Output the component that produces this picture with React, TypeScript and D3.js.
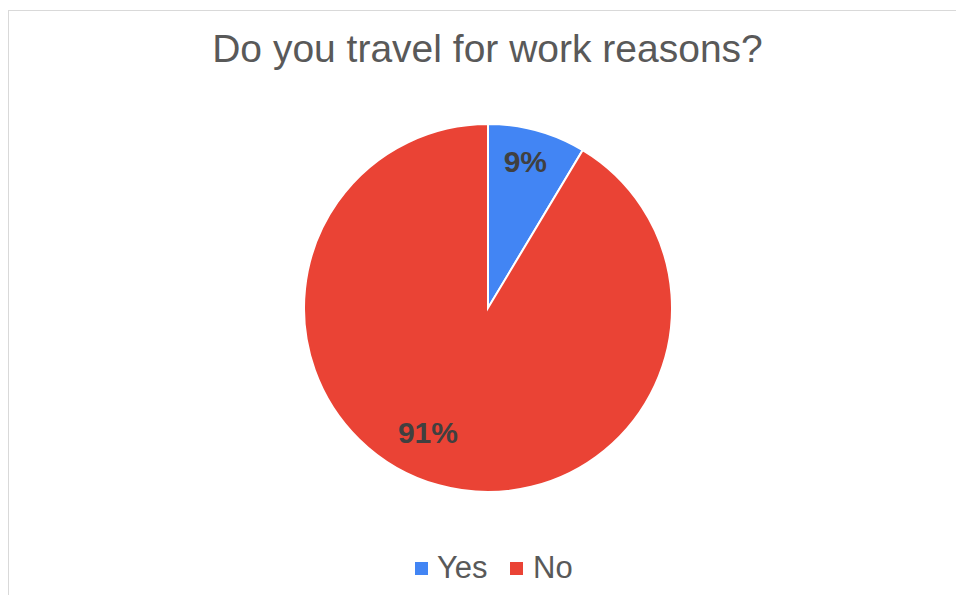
import React from "react";
import * as d3 from "d3";

const title = "Do you travel for work reasons?";
const categories = ["Yes", "No"];
const values = [8.6, 91.4];
const labels = ["9%", "91%"];
const colors = ["#4285F4", "#EA4335"];

export default function App() {
  const W = 956, H = 595;
  const cx = 488, cy = 308, R = 184;
  const pie = d3.pie<number>().sort(null).value((d) => d)(values);
  const arc = d3.arc<d3.PieArcDatum<number>>().innerRadius(0).outerRadius(R);
  const font = "'Liberation Sans', Arial, sans-serif";
  const labelPos = (d: d3.PieArcDatum<number>) => {
    const big = d.endAngle - d.startAngle > Math.PI;
    const a = (d.startAngle + d.endAngle) / 2 + (big ? 0.18 : -0.02);
    const r = big ? R * 0.75 : R * 0.82;
    return [r * Math.sin(a), -r * Math.cos(a)];
  };
  const legendItems = [
    { x: 415, tx: 437 },
    { x: 510, tx: 533 },
  ];
  return (
    <svg width={W} height={H} style={{ position: "absolute", left: 0, top: 0 }}>
      <rect x={0} y={0} width={W} height={H} fill="#fff" />
      <rect x={8.5} y={10.5} width={960} height={620} fill="#fff" stroke="#d9d9d9" strokeWidth={1} />
      <text x={487.5} y={62} textAnchor="middle" fontFamily={font} fontSize={39} fill="#595959">
        {title}
      </text>
      <g transform={`translate(${cx},${cy})`}>
        {pie.map((d, i) => (
          <path key={i} d={arc(d) || ""} fill={colors[i]} stroke="#fff" strokeWidth={2} />
        ))}
        {pie.map((d, i) => {
          const [x, y] = labelPos(d);
          return (
            <text key={"l" + i} x={x} y={y} textAnchor="middle" dominantBaseline="central"
              fontFamily={font} fontSize={30} fontWeight="bold" fill="#404040">
              {labels[i]}
            </text>
          );
        })}
      </g>
      {categories.map((c, i) => (
        <g key={c}>
          <rect x={legendItems[i].x} y={562} width={13} height={13} fill={colors[i]} />
          <text x={legendItems[i].tx} y={578} fontFamily={font} fontSize={31} fill="#595959">
            {c}
          </text>
        </g>
      ))}
    </svg>
  );
}
